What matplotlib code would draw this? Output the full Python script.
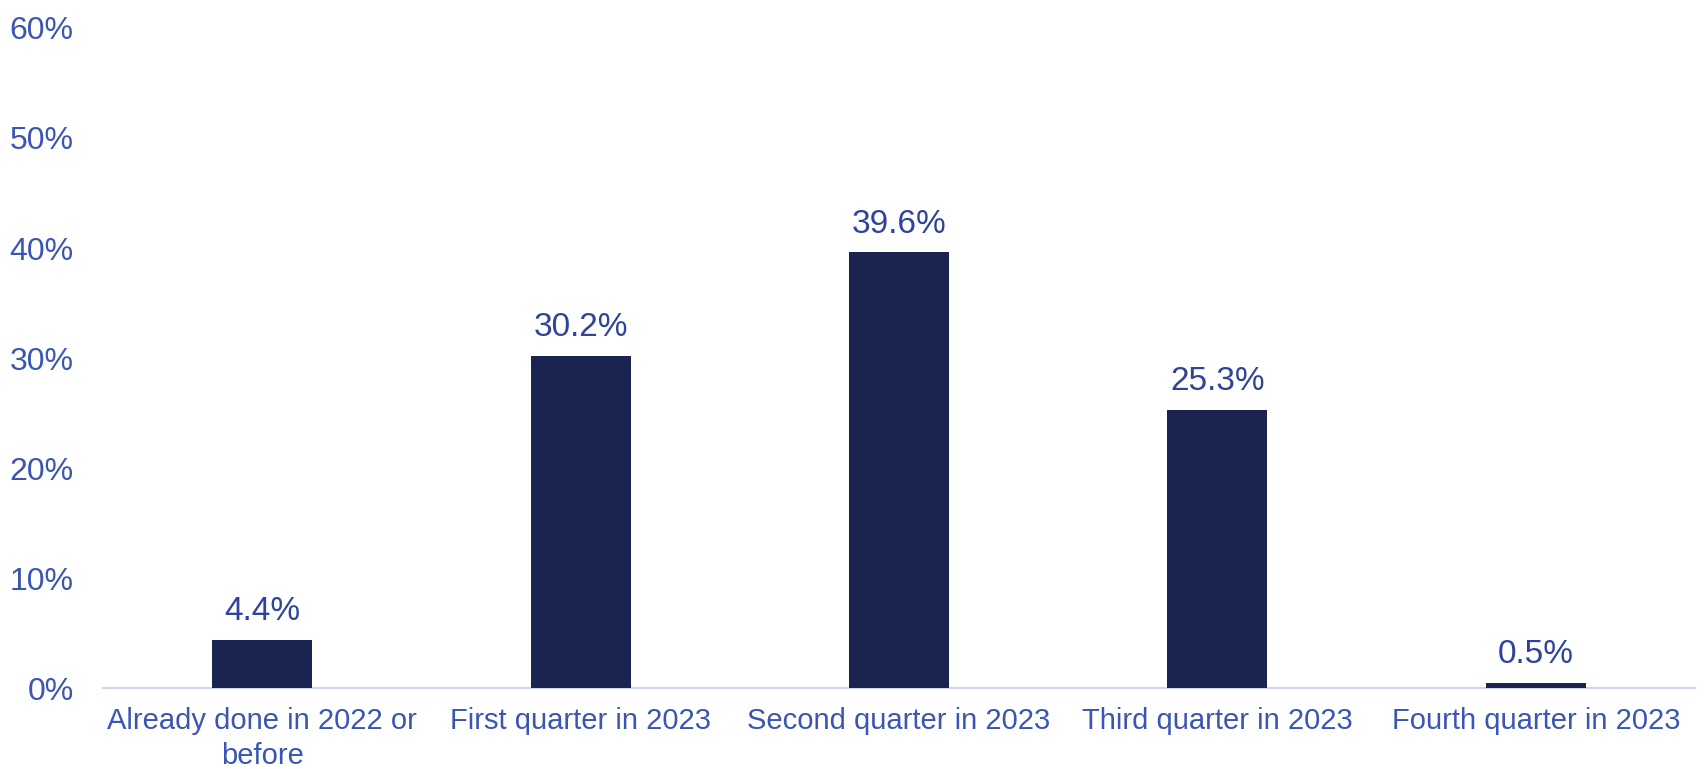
import matplotlib.pyplot as plt
from matplotlib.ticker import PercentFormatter

plt.rcParams['font.family'] = ['Liberation Sans', 'DejaVu Sans']

# Timing of the planned step, share of respondents (%)
categories = ['Already done in 2022 or\nbefore', 'First quarter in 2023', 'Second quarter in 2023',
              'Third quarter in 2023', 'Fourth quarter in 2023']
values = [4.4, 30.2, 39.6, 25.3, 0.5]

bar_color = '#1b2450'
tick_color = '#3a55b4'
label_color = '#2e4399'

fig = plt.figure(figsize=(17.04, 7.69), dpi=100)
ax = fig.add_axes([0.0604, 0.1053, 0.9343, 0.8583])

x = range(len(categories))
bars = ax.bar(x, values, width=0.314, color=bar_color, zorder=3)

for rect, v in zip(bars, values):
    ax.annotate(f'{v:.1f}%', (rect.get_x() + rect.get_width() / 2, v),
                xytext=(0, 9), textcoords='offset points', ha='center', va='bottom',
                fontsize=24, color=label_color)

ax.set_xlim(-0.5, len(categories) - 0.5)
ax.set_ylim(0, 60)
ax.set_yticks(range(0, 61, 10))
ax.yaxis.set_major_formatter(PercentFormatter(decimals=0))
ax.set_xticks(list(x))
ax.set_xticklabels(categories, linespacing=1.3)

for side in ['top', 'right', 'left']:
    ax.spines[side].set_visible(False)
ax.spines['bottom'].set_color('#d0d5f0')
ax.spines['bottom'].set_linewidth(1.5)

ax.tick_params(axis='x', length=0, labelsize=21, labelcolor=tick_color, pad=14)
ax.tick_params(axis='y', length=0, labelsize=23, labelcolor=tick_color, pad=21)

fig.savefig('out.png', dpi=100)
